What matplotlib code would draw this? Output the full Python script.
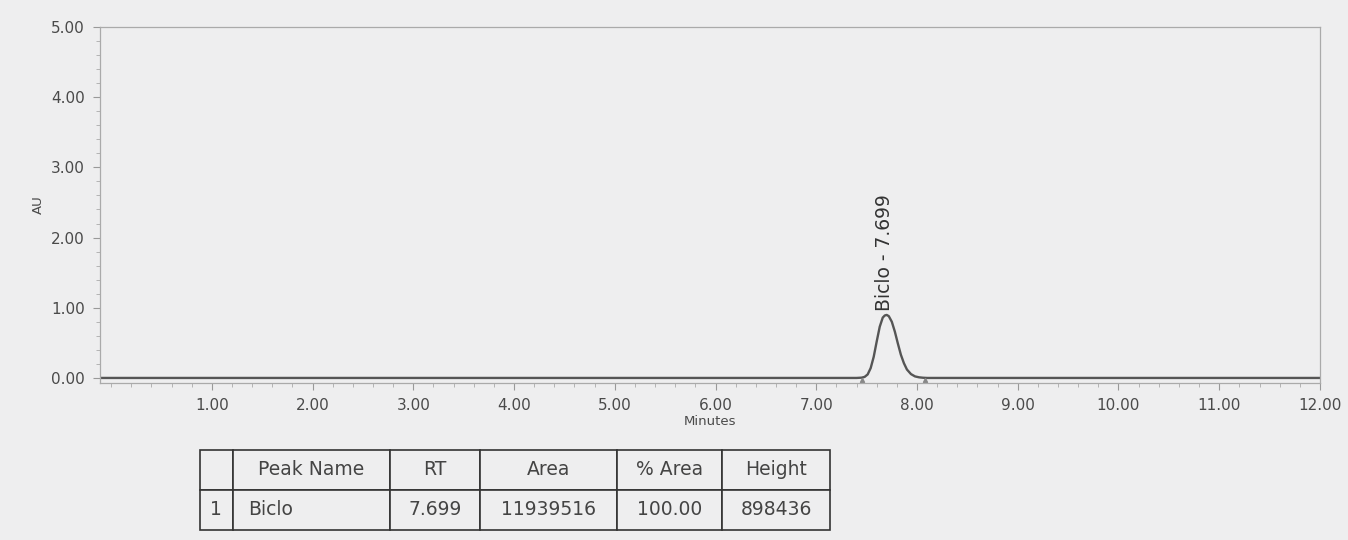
import numpy as np
import matplotlib.pyplot as plt
from matplotlib.ticker import MultipleLocator, FormatStrFormatter

# chromatogram trace (minutes, AU)
minutes = [-0.11, 7.40, 7.45, 7.48, 7.51, 7.54, 7.57, 7.60, 7.63, 7.66, 7.68, 7.699,
           7.72, 7.75, 7.78, 7.81, 7.84, 7.87, 7.90, 7.94, 7.98, 8.02, 8.06, 8.10, 12.0]
au = [0.0, 0.0, 0.004, 0.015, 0.05, 0.14, 0.30, 0.52, 0.73, 0.86, 0.89, 0.898,
      0.88, 0.80, 0.66, 0.49, 0.33, 0.21, 0.12, 0.055, 0.022, 0.009, 0.003, 0.0, 0.0]

peak_label = 'Biclo - 7.699'
peak_rt = 7.699
peak_top = 0.898

col_labels = ['', 'Peak Name', 'RT', 'Area', '% Area', 'Height']
row_values = [['1', 'Biclo', '7.699', '11939516', '100.00', '898436']]

bg = '#eeeeef'
txt = '#4a4a4a'

fig = plt.figure(figsize=(13.48, 5.4), dpi=100, facecolor=bg)
ax = fig.add_axes([0.0742, 0.291, 0.9050, 0.659], facecolor=bg)

ax.plot(minutes, au, color='#555555', lw=1.7)
ax.set_xlim(-0.11, 12.0)
ax.set_ylim(-0.07, 5.0)

ax.xaxis.set_major_locator(MultipleLocator(1.0))
ax.xaxis.set_minor_locator(MultipleLocator(0.2))
ax.yaxis.set_major_locator(MultipleLocator(1.0))
ax.yaxis.set_minor_locator(MultipleLocator(0.2))
ax.xaxis.set_major_formatter(FormatStrFormatter('%.2f'))
ax.yaxis.set_major_formatter(FormatStrFormatter('%.2f'))
ax.set_xticks(np.arange(1, 13))
ax.tick_params(which='major', length=5, color='#999999', labelsize=11,
               labelcolor=txt, pad=6)
ax.tick_params(which='minor', length=3, color='#aaaaaa')
for sp in ax.spines.values():
    sp.set_color('#aaaaaa')
    sp.set_linewidth(0.9)

ax.set_xlabel('Minutes', fontsize=9.5, color=txt, labelpad=1)
ax.set_ylabel('AU', fontsize=9.5, color=txt, labelpad=4)

ax.text(peak_rt - 0.02, peak_top + 0.05, peak_label, rotation=90, ha='center',
        va='bottom', fontsize=13.5, color='#333333')

# integration markers at the peak start/end
ax.plot([7.45, 8.08], [-0.03, -0.03], ls='none', marker='^', ms=3,
        color='#888888')

tax = fig.add_axes([0.148, 0.0185, 0.468, 0.1485])
tax.axis('off')
widths = np.array([33, 157, 90, 137, 105, 108], dtype=float)
widths = widths / widths.sum()
tbl = tax.table(cellText=row_values, colLabels=col_labels, colWidths=widths,
                bbox=[0, 0, 1, 1], cellLoc='center')
tbl.auto_set_font_size(False)
for (r, c), cell in tbl.get_celld().items():
    cell.set_facecolor(bg)
    cell.set_edgecolor('#333333')
    cell.set_linewidth(1.2)
    cell.get_text().set_fontsize(13.5)
    cell.get_text().set_color('#444444')
    if c == 1 and r == 1:
        cell.get_text().set_ha('left')
        cell._loc = 'left'

fig.savefig('out.png', dpi=100, facecolor=bg)
